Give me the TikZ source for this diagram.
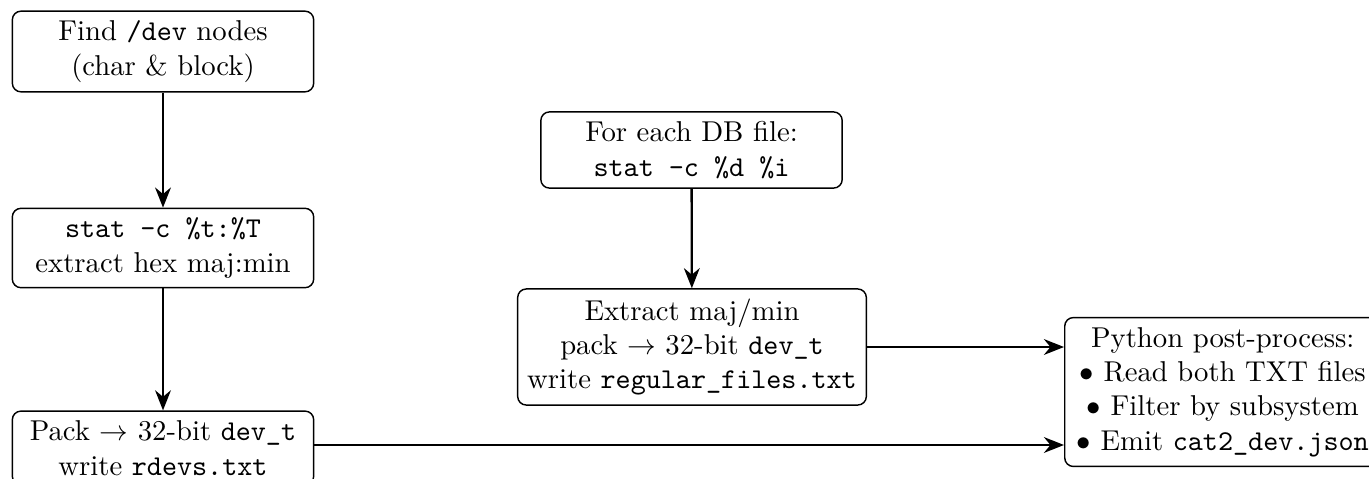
\documentclass[tikz,border=0pt]{standalone}
\usetikzlibrary{arrows.meta}
\begin{document}
\begin{tikzpicture}[x=0.34843pt,y=-0.34843pt,
  box/.style={draw, line width=0.5pt, rounded corners=3pt, align=center, minimum width=105pt, inner sep=3.33pt},
  flow/.style={-{Stealth[length=7pt,width=5.5pt]}, line width=0.8pt}]
\useasboundingbox (0,0) rectangle (1369,478);
\begin{scope}
\clip (0,0) rectangle (1369,478);
\node[box] (find) at (163,51.5) {Find \texttt{/dev} nodes\\(char \& block)};
\node[box] (stat) at (163,248) {\texttt{stat -c \%t:\%T}\\extract hex maj:min};
\node[box] (pack) at (163,448) {Pack $\rightarrow$ 32-bit \texttt{dev\_t}\\write \texttt{rdevs.txt}};
\node[box] (each) at (691.5,150) {For each DB file:\\\texttt{stat -c \%d \%i}};
\node[box] (extr) at (692,347) {Extract maj/min\\pack $\rightarrow$ 32-bit \texttt{dev\_t}\\write \texttt{regular\_files.txt}};
\node[box, anchor=west, inner xsep=4.2pt] (py) at (1064,392) {Python post-process:\\$\bullet$ Read both TXT files\\$\bullet$ Filter by subsystem\\$\bullet$ Emit \texttt{cat2\_dev.json}};
\draw[flow] (find) -- (stat);
\draw[flow] (stat) -- (pack);
\draw[flow] (each) -- (extr);
\draw[flow] (extr.east) -- (extr.east -| py.west);
\draw[flow] ([yshift=1.05pt]pack.east) -- ([yshift=1.05pt]pack.east -| py.west);
\end{scope}
\end{tikzpicture}
\end{document}
